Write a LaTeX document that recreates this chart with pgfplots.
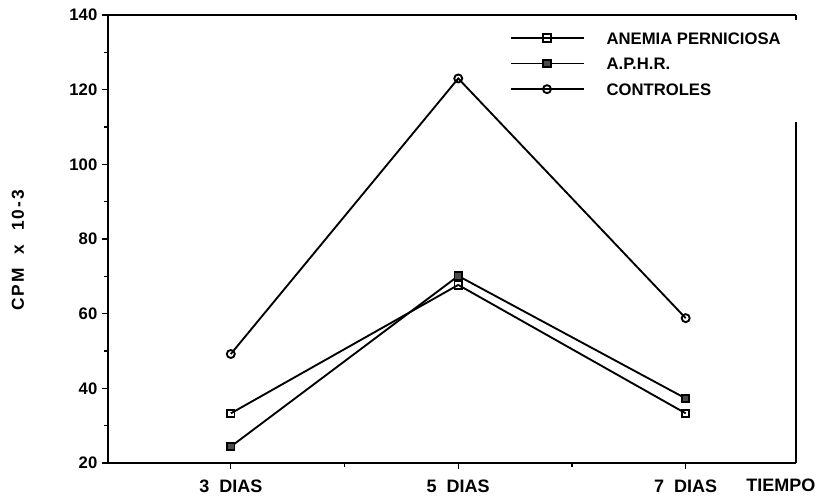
\documentclass[border=0pt]{standalone}
\usepackage{fontspec}
\setmainfont{Liberation Sans}
\usepackage{pgfplots}
\pgfplotsset{compat=1.18}

\begin{document}
\begin{tikzpicture}
\begin{axis}[
    scale only axis,
    width=516pt, height=336pt,
    xmin=1.92, xmax=7.97,
    ymin=20, ymax=140,
    clip=false,
    axis lines=left,
    axis line style={-, line width=1.5pt},
    tick align=outside,
    major tick length=4.5pt,
    minor tick length=3pt,
    tick style={line width=1pt, black},
    xtick={3,5,7},
    xticklabels={3~~DIAS, 5~~DIAS, 7~~DIAS},
    minor xtick={4,6},
    ytick={20,40,...,140},
    minor ytick={30,50,...,130},
    /pgf/number format/assume math mode=true,
    ticklabel style={font=\fontsize{12.5pt}{14pt}\bfseries},
    xticklabel style={font=\fontsize{13.5pt}{15pt}\bfseries, yshift=-5pt},
    ylabel={CPM~~x~~10-3},
    ylabel style={font=\fontsize{13pt}{15pt}\bfseries\addfontfeature{LetterSpace=12},
        at={(axis description cs:-0.131,0.475)}, anchor=center, rotate=0},
    legend style={draw=none, fill=none, at={(axis description cs:0.584,0.966)},
        anchor=north west, inner sep=0pt, row sep=8pt, column sep=15pt,
        font=\fontsize{12.5pt}{14pt}\bfseries,
        nodes={inner sep=1pt, text height=9.2pt, text depth=0pt}},
    legend cell align=left,
    legend image code/.code={\draw[mark repeat=2, mark phase=2]
        plot coordinates {(0pt,0pt) (27pt,0pt) (55pt,0pt)};},
    every axis plot/.append style={black, line width=1.4pt,
        mark options={solid, line width=1pt}},
]
% ANEMIA PERNICIOSA
\addplot[mark=square, mark size=2.8pt, mark options={fill=white}]
    coordinates {(3,33.3) (5,67.7) (7,33.3)};
% A.P.H.R.
\addplot[mark=square*, mark size=2.8pt, mark options={fill=black!70}]
    coordinates {(3,24.4) (5,70.1) (7,37.3)};
% CONTROLES
\addplot[mark=o, mark size=3pt, mark options={fill=white}]
    coordinates {(3,49.2) (5,123) (7,58.8)};
\legend{ANEMIA PERNICIOSA, A.P.H.R., CONTROLES}

% marco superior y derecho, interrumpido junto a la leyenda
\draw[line width=1.5pt] (rel axis cs:0,1) -- (rel axis cs:1,1);
\draw[line width=1.2pt] (rel axis cs:1,1) -- ([yshift=-3.5pt]rel axis cs:1,1);
\draw[line width=1.5pt] (rel axis cs:1,0.761) -- (rel axis cs:1,0);
\node[font=\fontsize{13.5pt}{15pt}\bfseries, anchor=center]
    at (axis description cs:0.978,-0.049) {TIEMPO};
\end{axis}
\pgfresetboundingbox
\path (-81pt,-25.5pt) rectangle (532.5pt,347.25pt);
\end{tikzpicture}
\end{document}
